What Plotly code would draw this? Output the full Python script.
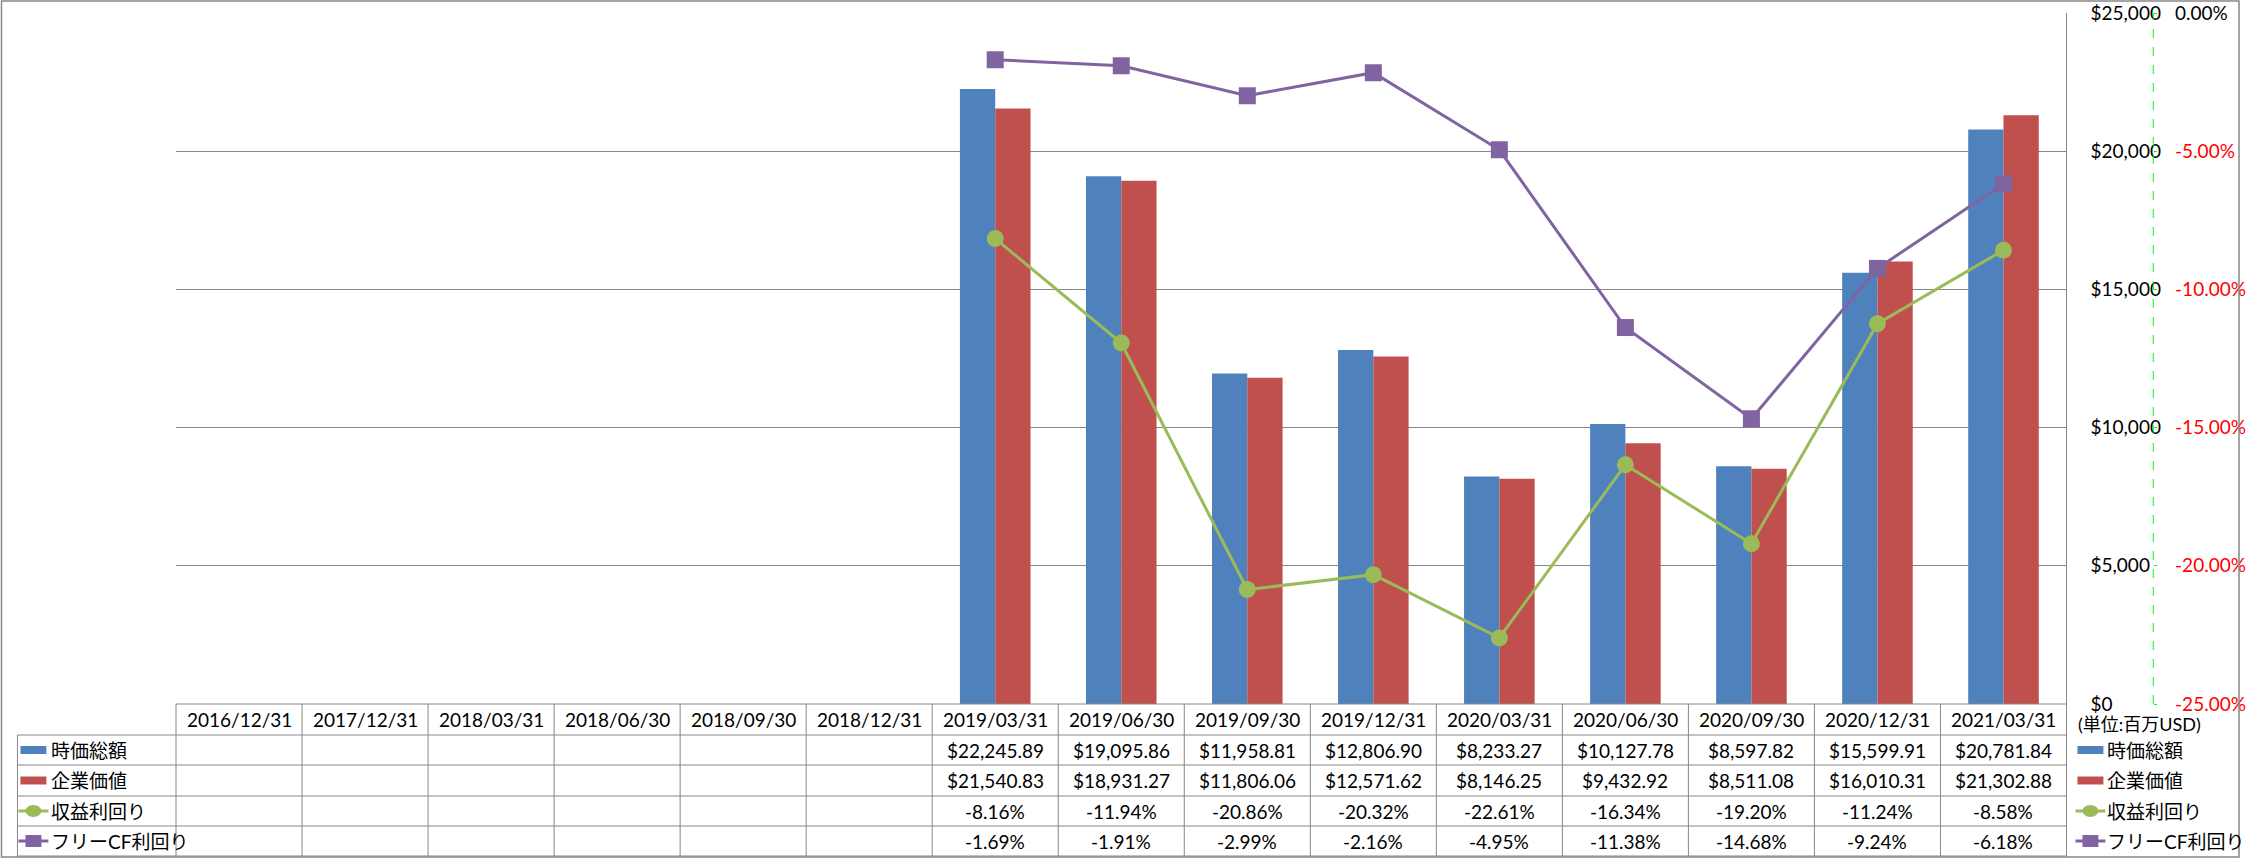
import plotly.graph_objects as go

categories = ["2016/12/31", "2017/12/31", "2018/03/31", "2018/06/30", "2018/09/30",
              "2018/12/31", "2019/03/31", "2019/06/30", "2019/09/30", "2019/12/31",
              "2020/03/31", "2020/06/30", "2020/09/30", "2020/12/31", "2021/03/31"]
market_cap = [None, None, None, None, None, None,
              22245.89, 19095.86, 11958.81, 12806.90, 8233.27, 10127.78, 8597.82, 15599.91, 20781.84]
enterprise_value = [None, None, None, None, None, None,
                    21540.83, 18931.27, 11806.06, 12571.62, 8146.25, 9432.92, 8511.08, 16010.31, 21302.88]
earnings_yield = [None, None, None, None, None, None,
                  -8.16, -11.94, -20.86, -20.32, -22.61, -16.34, -19.20, -11.24, -8.58]
fcf_yield = [None, None, None, None, None, None,
             -1.69, -1.91, -2.99, -2.16, -4.95, -11.38, -14.68, -9.24, -6.18]
series_names = ["時価総額", "企業価値", "収益利回り", "フリーCF利回り"]
left_ticks = [0, 5000, 10000, 15000, 20000, 25000]
right_ticks = [0, -5, -10, -15, -20, -25]
unit_label = "(単位:百万USD)"

BLUE = "#4F81BD"
RED = "#C0504D"
GREEN = "#9BBB59"
PURPLE = "#8064A2"
GRID = "#878787"
FONT = "Lato, 'Noto Sans CJK JP', sans-serif"
FS = 19

W, H = 2246, 858
L, T, B = 176, 13, 704
PR = 2072  # plot right edge (px)


def px(x):
    return (x - L) / (W - L)


def py(y):
    return (B - y) / (B - T)


fig = go.Figure()
fig.add_trace(go.Bar(x=categories, y=market_cap, name=series_names[0], marker_color=BLUE,
                     marker_line_width=0))
fig.add_trace(go.Bar(x=categories, y=enterprise_value, name=series_names[1], marker_color=RED,
                     marker_line_width=0))
fig.add_trace(go.Scatter(x=categories, y=earnings_yield, name=series_names[2], yaxis="y2",
                         mode="lines+markers", line=dict(color=GREEN, width=3),
                         marker=dict(symbol="circle", size=17, color=GREEN)))
fig.add_trace(go.Scatter(x=categories, y=fcf_yield, name=series_names[3], yaxis="y2",
                         mode="lines+markers", line=dict(color=PURPLE, width=3),
                         marker=dict(symbol="square", size=17, color=PURPLE)))

left_text = [f"${v:,}" for v in left_ticks]
right_text = []
for v in right_ticks:
    s = f"{v:.2f}%"
    right_text.append(s if v == 0 else f"<span style='color:#FF0000'>{s}</span>")

fig.update_layout(
    width=W, height=H,
    margin=dict(l=L, r=0, t=T, b=H - B, pad=0),
    paper_bgcolor="white", plot_bgcolor="white",
    showlegend=False,
    barmode="group", bargap=0.44, bargroupgap=0,
    font=dict(family=FONT, size=FS, color="black"),
    xaxis=dict(domain=[0, px(PR)], type="category", range=[-0.5, len(categories) - 0.5],
               showticklabels=False, showgrid=False, showline=False, zeroline=False, ticks=""),
    yaxis=dict(side="right", anchor="x", range=[0, 25000], tickvals=left_ticks,
               ticktext=left_text, showgrid=True, gridcolor=GRID, gridwidth=1,
               zeroline=False, showline=False, ticks="", ticklabelstandoff=23,
               tickfont=dict(family=FONT, size=FS, color="black")),
    yaxis2=dict(overlaying="y", side="right", anchor="free", position=px(2159),
                range=[-25, 0], tickvals=right_ticks, ticktext=right_text,
                showgrid=False, zeroline=False, showline=False,
                ticks="outside", ticklen=3, tickcolor="#00FF00", tickwidth=1,
                ticklabelstandoff=14, tickfont=dict(family=FONT, size=FS, color="black")),
)

shapes = []
line_style = dict(color=GRID, width=1)
shapes.append(dict(type="rect", xref="paper", yref="paper", x0=px(1), x1=px(W - 1),
                   y0=py(1), y1=py(H - 1), line=dict(color=GRID, width=1.5)))
shapes.append(dict(type="line", xref="paper", yref="paper", x0=px(2159), x1=px(2159),
                   y0=0, y1=1, line=dict(color="#00FF00", width=1, dash="dash")))
shapes.append(dict(type="line", xref="paper", yref="paper", x0=px(PR), x1=px(PR),
                   y0=py(856), y1=1, line=line_style))

row_edges = [704, 735, 765, 796, 826, 856]
n = len(categories)
col_edges = [L + (PR - L) * i / n for i in range(n + 1)]
for i, ry in enumerate(row_edges):
    x0 = L if i == 0 else 17
    shapes.append(dict(type="line", xref="paper", yref="paper", x0=px(x0), x1=px(PR),
                       y0=py(ry), y1=py(ry), line=line_style))
for cx in col_edges[:-1]:
    shapes.append(dict(type="line", xref="paper", yref="paper", x0=px(cx), x1=px(cx),
                       y0=py(704), y1=py(856), line=line_style))
shapes.append(dict(type="line", xref="paper", yref="paper", x0=px(17), x1=px(17),
                   y0=py(735), y1=py(856), line=line_style))

annotations = []
row_centers = [(row_edges[i] + row_edges[i + 1]) / 2 for i in range(5)]
for i, c in enumerate(categories):
    annotations.append(dict(x=i, y=py(row_centers[0]), xref="x", yref="paper", text=c,
                            showarrow=False, xanchor="center", yanchor="middle",
                            font=dict(size=FS)))
value_rows = [
    [None if v is None else f"${v:,.2f}" for v in market_cap],
    [None if v is None else f"${v:,.2f}" for v in enterprise_value],
    [None if v is None else f"{v:.2f}%" for v in earnings_yield],
    [None if v is None else f"{v:.2f}%" for v in fcf_yield],
]
for r, vals in enumerate(value_rows):
    for i, t in enumerate(vals):
        if t is None:
            continue
        annotations.append(dict(x=i, y=py(row_centers[r + 1]), xref="x", yref="paper", text=t,
                                showarrow=False, xanchor="center", yanchor="middle",
                                font=dict(size=FS)))


def legend_key(kind, color, x0, yc):
    if kind == "bar":
        shapes.append(dict(type="rect", xref="paper", yref="paper", x0=px(x0 + 2), x1=px(x0 + 28),
                           y0=py(yc - 4), y1=py(yc + 4), fillcolor=color, line=dict(width=0)))
    else:
        shapes.append(dict(type="line", xref="paper", yref="paper", x0=px(x0), x1=px(x0 + 30),
                           y0=py(yc), y1=py(yc), line=dict(color=color, width=3)))
        st = "circle" if kind == "circle" else "rect"
        shapes.append(dict(type=st, xref="paper", yref="paper", x0=px(x0 + 7), x1=px(x0 + 23),
                           y0=py(yc - 6), y1=py(yc + 6), fillcolor=color, line=dict(width=0)))


kinds = ["bar", "bar", "circle", "square"]
colors = [BLUE, RED, GREEN, PURPLE]
for r in range(4):
    yc = row_centers[r + 1]
    legend_key(kinds[r], colors[r], 18, yc)
    annotations.append(dict(x=px(49), y=py(yc), xref="paper", yref="paper", text=series_names[r],
                            showarrow=False, xanchor="left", yanchor="middle", font=dict(size=FS)))
    legend_key(kinds[r], colors[r], 2081, yc)
    annotations.append(dict(x=px(2111), y=py(yc), xref="paper", yref="paper", text=series_names[r],
                            showarrow=False, xanchor="left", yanchor="middle", font=dict(size=FS)))

annotations.append(dict(x=px(2082), y=py(724), xref="paper", yref="paper", text=unit_label,
                        showarrow=False, xanchor="left", yanchor="middle", font=dict(size=18)))

fig.update_layout(shapes=shapes, annotations=annotations)
fig.write_html("out.html", config={"displayModeBar": False},
               post_script="document.body.style.margin='0';document.body.style.overflow='hidden';")
